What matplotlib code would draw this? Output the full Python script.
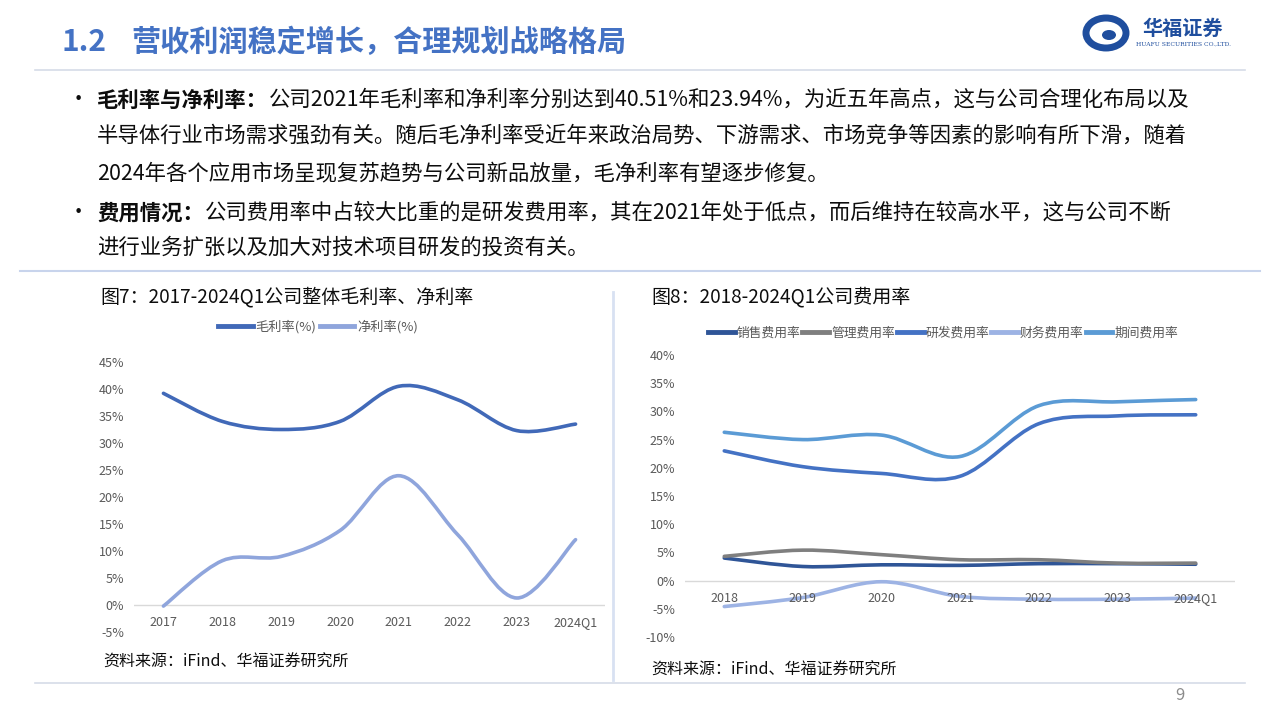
import numpy as np
import matplotlib
matplotlib.use("Agg")
import matplotlib.pyplot as plt
from matplotlib.path import Path
from matplotlib.patches import PathPatch, Ellipse
from matplotlib.lines import Line2D

plt.rcParams['font.family'] = ['Noto Sans CJK SC', 'DejaVu Sans']

# ---- data ----
years1 = ['2017', '2018', '2019', '2020', '2021', '2022', '2023', '2024Q1']
gross_margin = [39.2, 34.0, 32.5, 34.0, 40.51, 38.0, 32.3, 33.5]
net_margin = [-0.2, 8.2, 9.0, 13.8, 23.94, 13.0, 1.3, 12.1]

years2 = ['2018', '2019', '2020', '2021', '2022', '2023', '2024Q1']
sales_rate = [4.0, 2.5, 2.8, 2.7, 3.0, 3.0, 2.9]
admin_rate = [4.3, 5.4, 4.6, 3.7, 3.7, 3.1, 3.1]
rd_rate = [23.0, 20.2, 19.0, 18.5, 27.8, 29.2, 29.4]
fin_rate = [-4.6, -3.0, -0.2, -2.8, -3.3, -3.3, -3.1]
period_rate = [26.3, 25.0, 25.8, 22.0, 31.0, 31.7, 32.1]

W, H = 1280, 720
fig = plt.figure(figsize=(12.8, 7.2), dpi=100)
fig.patch.set_facecolor('white')

# overlay axes in pixel coords for page decoration
page = fig.add_axes([0, 0, 1, 1])
page.set_xlim(0, W)
page.set_ylim(H, 0)
page.axis('off')
page.set_zorder(-1)


def rect(x0, y0, x1, y1):
    return [x0 / W, 1 - y1 / H, (x1 - x0) / W, (y1 - y0) / H]


def smooth_line(ax, y, color, lw=2.6, label=None):
    # Excel-like smoothed line through the data points (cubic bezier segments)
    x = np.arange(len(y), dtype=float)
    y = np.asarray(y, dtype=float)
    pts = np.column_stack([x, y])
    verts = [pts[0]]
    codes = [Path.MOVETO]
    n = len(pts)
    for i in range(n - 1):
        p0 = pts[i - 1] if i > 0 else pts[i]
        p1 = pts[i]
        p2 = pts[i + 1]
        p3 = pts[i + 2] if i + 2 < n else pts[i + 1]
        c1 = p1 + (p2 - p0) / 6.0
        c2 = p2 - (p3 - p1) / 6.0
        verts += [c1, c2, p2]
        codes += [Path.CURVE4] * 3
    patch = PathPatch(Path(verts, codes), facecolor='none', edgecolor=color,
                      lw=lw, capstyle='round', joinstyle='round')
    ax.add_patch(patch)
    return Line2D([], [], color=color, lw=3.5, label=label)


def style_axes(ax, cats, ylim, step):
    ax.set_xlim(-0.5, len(cats) - 0.5)
    ax.set_ylim(*ylim)
    for s in ax.spines.values():
        s.set_visible(False)
    ax.axhline(0, color='#D9D9D9', lw=1, zorder=0)
    ax.set_xticks([])
    ticks = np.arange(ylim[0], ylim[1] + 0.1, step)
    ax.set_yticks(ticks)
    ax.set_yticklabels([f'{int(t)}%' for t in ticks], color='#595959', fontsize=9)
    ax.tick_params(axis='y', length=0, pad=7)
    for i, c in enumerate(cats):
        ax.annotate(c, (i, 0), xytext=(0, -8), textcoords='offset points',
                    ha='center', va='top', color='#595959', fontsize=9)


# ---- header ----
page.text(62, 42, '1.2', fontsize=21.5, fontweight='bold', color='#4472C4', va='center')
page.text(131, 42, '营收利润稳定增长，合理规划战略格局', fontsize=21,
          fontweight='bold', color='#4472C4', va='center')
page.plot([35, 1245], [70, 70], color='#D6DCE8', lw=1.2)

# logo
page.add_patch(Ellipse((1106, 33), 40, 30, facecolor='none', edgecolor='#1F4E9E', lw=5))
page.add_patch(Ellipse((1109, 35), 14, 10, facecolor='#1F4E9E', edgecolor='none'))
page.text(1183, 28, '华福证券', fontsize=14.5, fontweight='bold', color='#1F4E9E',
          ha='center', va='center')
page.text(1184, 44, 'HUAFU SECURITIES CO.,LTD.', fontsize=4.3, color='#1F4E9E',
          ha='center', va='center', family='DejaVu Serif')

# ---- bullet text ----
fs = 15.4
bullets = [
    (100, '毛利率与净利率：', '公司2021年毛利率和净利率分别达到40.51%和23.94%，为近五年高点，这与公司合理化布局以及'),
    (135, '', '半导体行业市场需求强劲有关。随后毛净利率受近年来政治局势、下游需求、市场竞争等因素的影响有所下滑，随着'),
    (173, '', '2024年各个应用市场呈现复苏趋势与公司新品放量，毛净利率有望逐步修复。'),
    (213, '费用情况：', '公司费用率中占较大比重的是研发费用率，其在2021年处于低点，而后维持在较高水平，这与公司不断'),
    (248, '', '进行业务扩张以及加大对技术项目研发的投资有关。'),
]
fig.canvas.draw()
renderer = fig.canvas.get_renderer()
for y, bold, rest in bullets:
    x = 97
    if bold:
        page.text(68, y, '•', fontsize=fs, color='#0D0D0D', va='center', ha='left')
        t = page.text(x, y, bold, fontsize=fs, fontweight='bold', color='#0D0D0D', va='center')
        bb = t.get_window_extent(renderer=renderer)
        x = bb.x1 + 1
    page.text(x, y, rest, fontsize=fs, color='#0D0D0D', va='center')

# separators
page.plot([20, 1260], [271, 271], color='#C8D4EC', lw=1.5)
page.plot([613, 613], [292, 680], color='#D8E1F2', lw=2)
page.plot([35, 1245], [683, 683], color='#D6DCE8', lw=1.2)
page.text(1180, 696, '9', fontsize=12, color='#8C8C8C', ha='center', va='center')

# ---- chart 1 ----
page.text(100, 297, '图7：2017-2024Q1公司整体毛利率、净利率', fontsize=13.7,
          color='#0D0D0D', va='center')
ax1 = fig.add_axes(rect(134, 362, 605, 632))
style_axes(ax1, years1, (-5, 45), 5)
h1 = smooth_line(ax1, gross_margin, '#4169B8', label='毛利率(%)')
h2 = smooth_line(ax1, net_margin, '#8FA5DC', label='净利率(%)')
fig.legend(handles=[h1, h2], loc='center', bbox_to_anchor=(318 / W, 1 - 327 / H),
           ncol=2, frameon=False, fontsize=9.5, handlelength=2.6, handletextpad=0.2,
           columnspacing=0.3, labelcolor='#595959')
page.text(103, 662, '资料来源：iFind、华福证券研究所', fontsize=11.5, color='#0D0D0D',
          va='center')

# ---- chart 2 ----
page.text(651, 297, '图8：2018-2024Q1公司费用率', fontsize=13.7, color='#0D0D0D', va='center')
ax2 = fig.add_axes(rect(685, 355, 1235, 637))
style_axes(ax2, years2, (-10, 40), 5)
series2 = [
    (sales_rate, '#2F5597', '销售费用率'),
    (admin_rate, '#7F7F7F', '管理费用率'),
    (rd_rate, '#4472C4', '研发费用率'),
    (fin_rate, '#9DB3E4', '财务费用率'),
    (period_rate, '#5B9BD5', '期间费用率'),
]
handles2 = [smooth_line(ax2, v, c, label=l) for v, c, l in series2]
fig.legend(handles=handles2, loc='center', bbox_to_anchor=(943 / W, 1 - 333 / H),
           ncol=5, frameon=False, fontsize=9.2, handlelength=2.1, handletextpad=0.15,
           columnspacing=0.15, labelcolor='#595959')
page.text(651, 670, '资料来源：iFind、华福证券研究所', fontsize=11.5, color='#0D0D0D',
          va='center')

fig.savefig('out.png', dpi=100, facecolor='white')
